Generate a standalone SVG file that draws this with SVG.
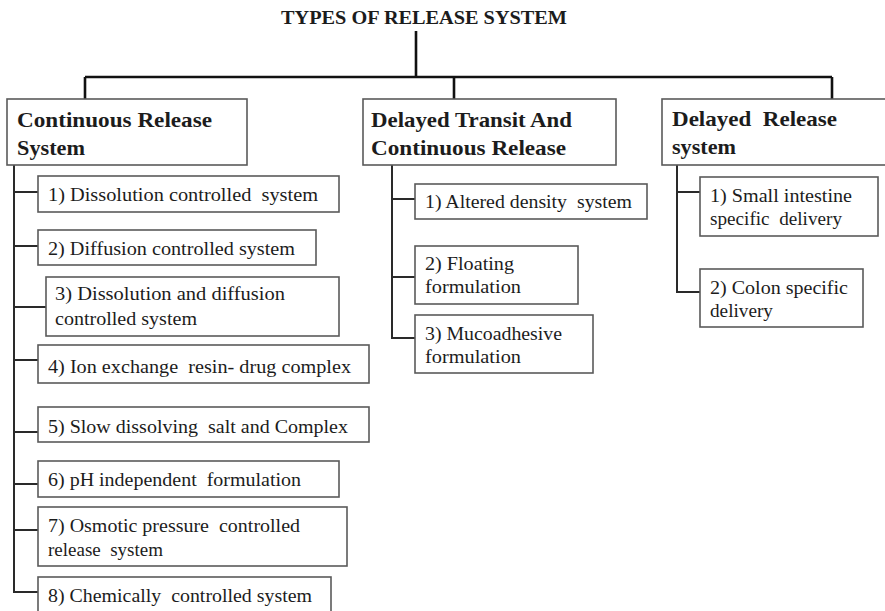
<svg xmlns="http://www.w3.org/2000/svg" width="885" height="611" viewBox="0 0 885 611">
  <style>
    .bg { fill: #ffffff; }
    .box { fill: #ffffff; stroke: #5a5a5a; stroke-width: 1.6; }
    .tree { fill: none; stroke: #111111; stroke-width: 2.6; }
    .link { fill: none; stroke: #2a2a2a; stroke-width: 2; }
    text { font-family: "Liberation Serif", "Times New Roman", serif; fill: #1c1c1c; white-space: pre; }
    .title { font-size: 19px; font-weight: bold; }
    .head { font-size: 21px; font-weight: bold; }
    .item { font-size: 18.5px; }
  </style>

  <rect class="bg" x="0" y="0" width="885" height="611"/>

  <!-- title -->
  <g id="title">
    <text class="title" x="281" y="24" textLength="286" lengthAdjust="spacingAndGlyphs">TYPES OF RELEASE SYSTEM</text>
  </g>

  <!-- connectors -->
  <g id="connectors">
    <!-- top-level tree -->
    <path class="tree" d="M416 31 V77 M85 77 H832 M85 77 V99 M454 77 V99 M832 77 V99"/>
    <!-- continuous release branch -->
    <path class="link" d="M14 165 V592 H38 M14 192 H38 M14 246 H38 M14 307 H46 M14 360 H38 M14 432 H38 M14 484 H38 M14 530 H38"/>
    <!-- delayed transit branch -->
    <path class="link" d="M392 165 V338 H415 M392 199 H415 M392 277 H415"/>
    <!-- delayed release branch -->
    <path class="link" d="M677 164 V292 H700 M677 192 H700"/>
  </g>

  <!-- category nodes -->
  <g id="continuous-release">
    <rect class="box" x="7" y="99" width="240" height="66"/>
    <text class="head" x="17" y="127" textLength="195" lengthAdjust="spacingAndGlyphs">Continuous Release</text>
    <text class="head" x="17" y="155" textLength="68" lengthAdjust="spacingAndGlyphs">System</text>
  </g>
  <g id="delayed-transit">
    <rect class="box" x="363" y="99" width="253" height="66"/>
    <text class="head" x="371" y="127" textLength="201" lengthAdjust="spacingAndGlyphs">Delayed Transit And</text>
    <text class="head" x="371" y="155" textLength="195" lengthAdjust="spacingAndGlyphs">Continuous Release</text>
  </g>
  <g id="delayed-release">
    <rect class="box" x="662" y="99" width="230" height="66"/>
    <text class="head" x="672" y="126" textLength="165" lengthAdjust="spacingAndGlyphs">Delayed  Release</text>
    <text class="head" x="672" y="154" textLength="64" lengthAdjust="spacingAndGlyphs">system</text>
  </g>

  <!-- continuous release items -->
  <g id="c1">
    <rect class="box" x="38" y="176" width="301" height="36"/>
    <text class="item" x="48" y="201" textLength="270" lengthAdjust="spacingAndGlyphs">1) Dissolution controlled  system</text>
  </g>
  <g id="c2">
    <rect class="box" x="38" y="230" width="278" height="35"/>
    <text class="item" x="48" y="255" textLength="247" lengthAdjust="spacingAndGlyphs">2) Diffusion controlled system</text>
  </g>
  <g id="c3">
    <rect class="box" x="46" y="277" width="293" height="59"/>
    <text class="item" x="55" y="300" textLength="230" lengthAdjust="spacingAndGlyphs">3) Dissolution and diffusion</text>
    <text class="item" x="55" y="325" textLength="142" lengthAdjust="spacingAndGlyphs">controlled system</text>
  </g>
  <g id="c4">
    <rect class="box" x="38" y="345" width="331" height="38"/>
    <text class="item" x="48" y="373" textLength="303" lengthAdjust="spacingAndGlyphs">4) Ion exchange  resin- drug complex</text>
  </g>
  <g id="c5">
    <rect class="box" x="38" y="407" width="331" height="35"/>
    <text class="item" x="48" y="433" textLength="300" lengthAdjust="spacingAndGlyphs">5) Slow dissolving  salt and Complex</text>
  </g>
  <g id="c6">
    <rect class="box" x="38" y="461" width="301" height="36"/>
    <text class="item" x="48" y="486" textLength="253" lengthAdjust="spacingAndGlyphs">6) pH independent  formulation</text>
  </g>
  <g id="c7">
    <rect class="box" x="38" y="507" width="309" height="59"/>
    <text class="item" x="48" y="532" textLength="252" lengthAdjust="spacingAndGlyphs">7) Osmotic pressure  controlled</text>
    <text class="item" x="48" y="556" textLength="115" lengthAdjust="spacingAndGlyphs">release  system</text>
  </g>
  <g id="c8">
    <rect class="box" x="38" y="577" width="293" height="40"/>
    <text class="item" x="48" y="602" textLength="264" lengthAdjust="spacingAndGlyphs">8) Chemically  controlled system</text>
  </g>

  <!-- delayed transit items -->
  <g id="m1">
    <rect class="box" x="415" y="184" width="232" height="35"/>
    <text class="item" x="425" y="208" textLength="207" lengthAdjust="spacingAndGlyphs">1) Altered density  system</text>
  </g>
  <g id="m2">
    <rect class="box" x="415" y="246" width="163" height="58"/>
    <text class="item" x="425" y="270" textLength="89" lengthAdjust="spacingAndGlyphs">2) Floating</text>
    <text class="item" x="425" y="293" textLength="96" lengthAdjust="spacingAndGlyphs">formulation</text>
  </g>
  <g id="m3">
    <rect class="box" x="415" y="315" width="178" height="58"/>
    <text class="item" x="425" y="340" textLength="137" lengthAdjust="spacingAndGlyphs">3) Mucoadhesive</text>
    <text class="item" x="425" y="363" textLength="96" lengthAdjust="spacingAndGlyphs">formulation</text>
  </g>

  <!-- delayed release items -->
  <g id="r1">
    <rect class="box" x="700" y="177" width="178" height="59"/>
    <text class="item" x="710" y="202" textLength="142" lengthAdjust="spacingAndGlyphs">1) Small intestine</text>
    <text class="item" x="710" y="225" textLength="132" lengthAdjust="spacingAndGlyphs">specific  delivery</text>
  </g>
  <g id="r2">
    <rect class="box" x="700" y="269" width="163" height="58"/>
    <text class="item" x="710" y="294" textLength="138" lengthAdjust="spacingAndGlyphs">2) Colon specific</text>
    <text class="item" x="710" y="317" textLength="63" lengthAdjust="spacingAndGlyphs">delivery</text>
  </g>
</svg>
